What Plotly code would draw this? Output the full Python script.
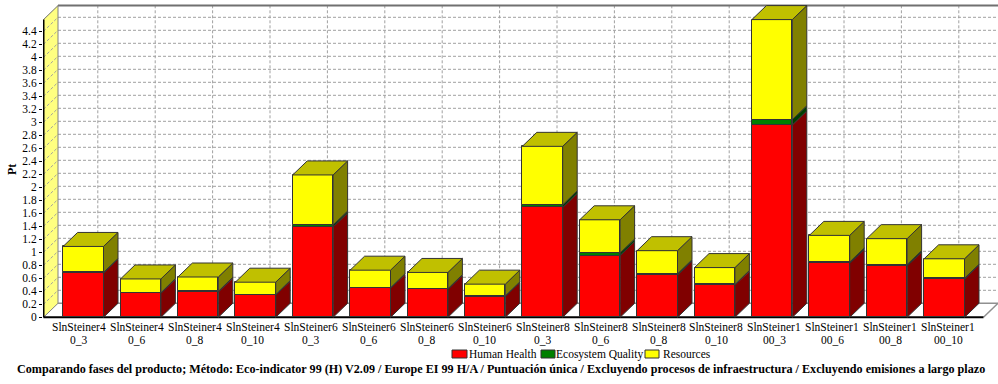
import plotly.graph_objects as go

labels_top = ["SlnSteiner4"]*4 + ["SlnSteiner6"]*4 + ["SlnSteiner8"]*4 + ["SlnSteiner1"]*4
labels_bottom = ["0_3","0_6","0_8","0_10"]*3 + ["00_3","00_6","00_8","00_10"]
human_health = [0.68,0.37,0.39,0.34,1.39,0.445,0.43,0.32,1.69,0.95,0.65,0.495,2.96,0.83,0.79,0.59]
ecosystem    = [0.01,0.01,0.01,0.01,0.03,0.01,0.01,0.01,0.04,0.04,0.02,0.01,0.08,0.02,0.02,0.01]
resources    = [0.40,0.21,0.22,0.19,0.77,0.27,0.25,0.18,0.90,0.51,0.355,0.26,1.54,0.41,0.40,0.30]
series_names = ["Human Health","Ecosystem Quality","Resources"]
front_cols = ["#FF0000","#008000","#FFFF00"]
side_cols  = ["#800000","#004000","#808000"]
top_col = "#C0C000"
edge = "#333333"
title = "Comparando fases del producto; Método: Eco-indicator 99 (H) V2.09 / Europe EI 99 H/A / Puntuación única / Excluyendo procesos de infraestructura / Excluyendo emisiones a largo plazo"
FONT = "Liberation Serif"

W, H = 998, 384
PX_X, PX_Y = 57.4, 65.0        # pixels per category / per Pt
X0, Y0 = 83.3, 317.3           # pixel of first bar centre / of Pt = 0
L, T, B = 43.0, 3.0, 319.0     # plot-area edges
DX, DY = 14.5 / PX_X, 14.0 / PX_Y
BAR = 40.4 / PX_X
YMAX = 4.58
n = len(human_health)

xr = [(L - X0) / PX_X, (W - X0) / PX_X]
yr = [(Y0 - B) / PX_Y, (Y0 - T) / PX_Y]
x_left = (43.5 - X0) / PX_X
x_right = (983.5 - X0) / PX_X
ticks = [round(i * 0.2, 1) for i in range(23)]

fig = go.Figure()
shapes = []
def seg(x0, y0, x1, y1, color, width=1, dash="solid"):
    shapes.append(dict(type="line", xref="x", yref="y", x0=x0, y0=y0, x1=x1, y1=y1, layer="below",
                       line=dict(color=color, width=width, dash=dash)))

GRID = "#A0A0A0"
DASH = "3px,2px"
# left wall
shapes.append(dict(type="path", xref="x", yref="y", layer="below", fillcolor="#FFFF80", line=dict(width=0),
    path=f"M{x_left},0 L{x_left+DX},{DY} L{x_left+DX},{YMAX+DY} L{x_left},{YMAX} Z"))
for v in ticks:
    if v > 0:
        seg(x_left, v, x_left + DX, v + DY, GRID, 1, DASH)
        seg(x_left + DX, v + DY, x_right + DX, v + DY, GRID, 1, DASH)
for i in range(n):
    seg(i + DX, DY, i + DX, YMAX + DY, GRID, 1, DASH)
# frame
seg(x_left + DX, YMAX + DY, xr[1], YMAX + DY, "#707070", 2)
seg(x_left, YMAX, x_left + DX, YMAX + DY, "#707070", 1)
seg(x_left + DX, DY, x_left + DX, YMAX + DY, "#808080", 1)
seg(x_left + DX, DY, xr[1], DY, "#909090", 1.5)
seg(x_left, 0, x_left + DX, DY, "#808080", 1)
seg(x_right, 0, x_right + DX, DY, "#909090", 1.5)
seg(x_left, 0, x_left, YMAX, "#000000", 2)
seg(x_left, 0, x_right, 0, "#000000", 2)

xs = list(range(n))
hw = BAR / 2
stack = [human_health, ecosystem, resources]
base = [0.0] * n
for name, vals, fc, sc in zip(series_names, stack, front_cols, side_cols):
    fig.add_trace(go.Bar(x=xs, y=vals, base=base, width=BAR, name=name, showlegend=False,
                         marker=dict(color=fc, line=dict(color=edge, width=1))))
    px, py = [], []
    for i in range(n):
        b, t, r = base[i], base[i] + vals[i], i + hw
        px += [r, r + DX, r + DX, r, r, None]
        py += [b, b + DY, t + DY, t, b, None]
    fig.add_trace(go.Scatter(x=px, y=py, mode="lines", fill="toself", fillcolor=sc, showlegend=False,
                             line=dict(color=edge, width=1), hoverinfo="skip"))
    base = [b + v for b, v in zip(base, vals)]
px, py = [], []
for i in range(n):
    l, r, t = i - hw, i + hw, base[i]
    px += [l, r, r + DX, l + DX, l, None]
    py += [t, t, t + DY, t + DY, t, None]
fig.add_trace(go.Scatter(x=px, y=py, mode="lines", fill="toself", fillcolor=top_col, showlegend=False,
                         line=dict(color=edge, width=1), hoverinfo="skip"))

def paper_x(p): return (p - L) / (W - L)
def paper_y(p): return (B - p) / (B - T)

annotations = []
def note(text, x, y, size, bold=False, angle=0, anchor="center"):
    annotations.append(dict(text=f"<b>{text}</b>" if bold else text, x=paper_x(x), y=paper_y(y),
        xref="paper", yref="paper", showarrow=False, xanchor=anchor, yanchor="middle", textangle=angle,
        font=dict(family=FONT, size=size, color="#000000")))

for i in range(n):
    cx = 79 + 57.95 * i
    note(labels_top[i], cx, 327, 11.5)
    note(labels_bottom[i], cx, 340, 11.5)
note("Pt", 12, 170, 12, bold=True, angle=-90)
note(title, 501, 369, 12.13, bold=True)

# legend row
legend_swatch = [(452, 467), (541, 555), (645, 659)]
legend_text = [467, 554, 661]
for name, fc, (a, b), tx in zip(series_names, front_cols, legend_swatch, legend_text):
    shapes.append(dict(type="rect", xref="paper", yref="paper", x0=paper_x(a), x1=paper_x(b),
                       y0=paper_y(358), y1=paper_y(350), fillcolor=fc, line=dict(color="#333333", width=1)))
    note(name, tx, 354, 11.5, anchor="left")

fig.update_layout(
    width=W, height=H, autosize=False, paper_bgcolor="white", plot_bgcolor="white",
    margin=dict(l=L, r=0, t=T, b=H - B, pad=0), barmode="overlay", bargap=0, showlegend=False,
    shapes=shapes, annotations=annotations,
    xaxis=dict(range=xr, showgrid=False, zeroline=False, showline=False, showticklabels=False, ticks=""),
    yaxis=dict(range=yr, showgrid=False, zeroline=False, showline=False, tickmode="array",
               tickvals=ticks, ticktext=[f"{v:g}" for v in ticks], ticks="outside", ticklen=3, tickwidth=1,
               tickcolor="#000000", tickfont=dict(family=FONT, size=11.5, color="#000000")),
)
fig.write_html("out.html", config=dict(displayModeBar=False),
               post_script="document.body.style.margin='0';document.documentElement.style.overflow='hidden';")
